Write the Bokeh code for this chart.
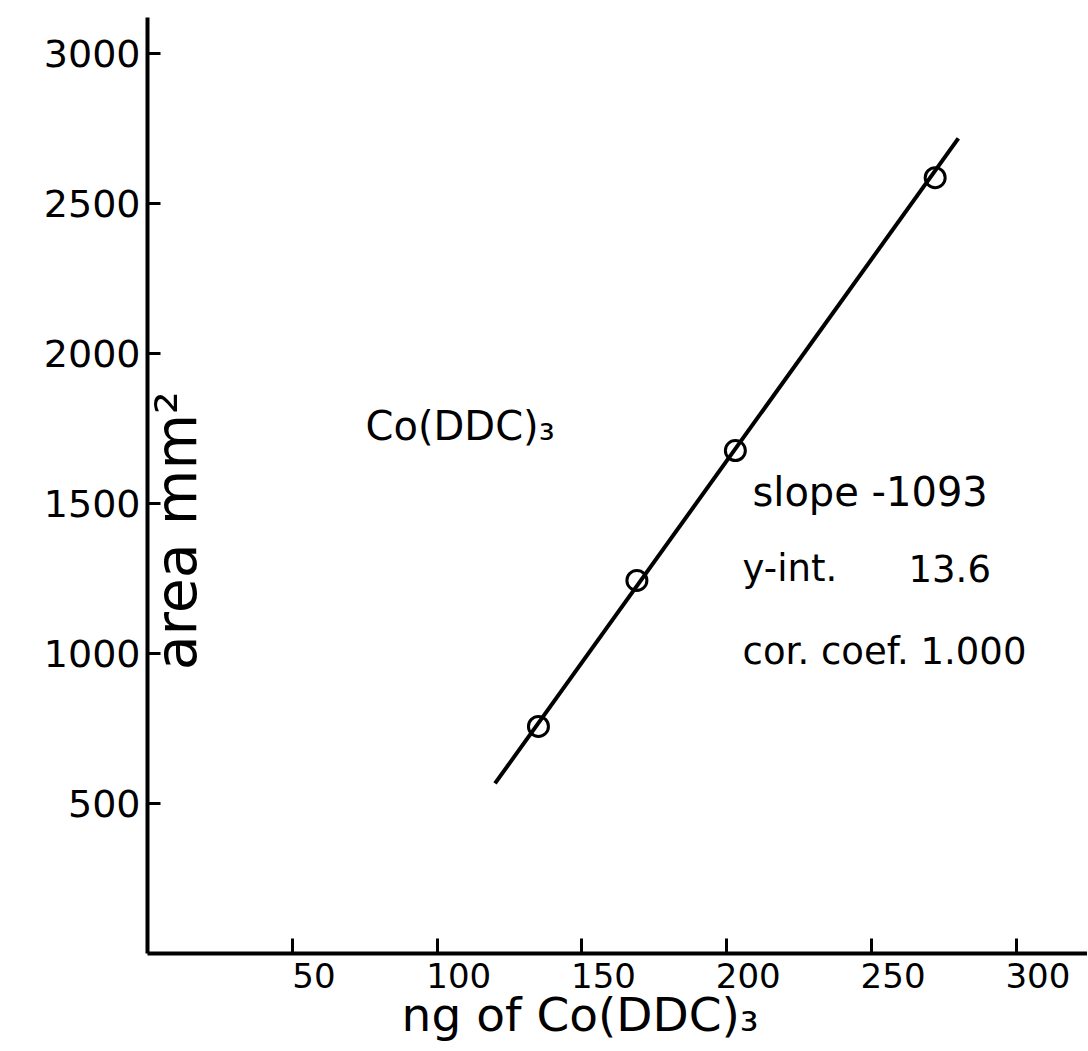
from bokeh.plotting import figure
from bokeh.models import FixedTicker, Label, Range1d
from bokeh.embed import file_html
from bokeh.resources import INLINE

# ---- data ----
ng_values = [135, 169, 203, 272]          # ng of Co(DDC)3
area_values = [757, 1244, 1677, 2587]     # area mm^2
fit_x = [120, 280]                         # drawn calibration line ends
fit_y = [567, 2718]
x_ticks = [50, 100, 150, 200, 250, 300]
y_ticks = [500, 1000, 1500, 2000, 2500, 3000]

FONT = "DejaVu Sans"
NB = "\u00a0"

p = figure(width=1087, height=1049, output_backend="svg", toolbar_location=None,
           x_range=Range1d(0, 324.6), y_range=Range1d(0, 3121),
           min_border_left=147, min_border_right=0, min_border_top=17, min_border_bottom=96)
p.outline_line_color = None
p.background_fill_color = "white"
p.border_fill_color = "white"
p.xgrid.visible = False
p.ygrid.visible = False

# axes
xa = p.xaxis[0]
xa.ticker = FixedTicker(ticks=x_ticks)
xa.major_label_overrides = {t: NB * 4 + str(t) for t in x_ticks}
xa.axis_label = "ng of Co(DDC)₃" + NB * 5
xa.axis_label_text_font = FONT
xa.axis_label_text_font_style = "normal"
xa.axis_label_text_font_size = "47px"
xa.axis_label_text_color = "black"
xa.axis_label_standoff = -12
xa.major_label_text_font = FONT
xa.major_label_text_font_size = "34px"
xa.major_label_text_color = "black"
xa.major_label_standoff = 2
xa.major_tick_in = 15
xa.major_tick_out = 0
xa.major_tick_line_width = 3
xa.major_tick_line_color = "black"
xa.minor_tick_line_color = None
xa.axis_line_width = 4
xa.axis_line_color = "black"

ya = p.yaxis[0]
ya.ticker = FixedTicker(ticks=y_ticks)
ya.axis_label = "area mm²" + NB * 5
ya.axis_label_text_font = FONT
ya.axis_label_text_font_style = "normal"
ya.axis_label_text_font_size = "57px"
ya.axis_label_text_color = "black"
ya.axis_label_standoff = -168
ya.major_label_text_font = FONT
ya.major_label_text_font_size = "38px"
ya.major_label_text_color = "black"
ya.major_label_standoff = 7
ya.major_tick_in = 13
ya.major_tick_out = 0
ya.major_tick_line_width = 3
ya.major_tick_line_color = "black"
ya.minor_tick_line_color = None
ya.axis_line_width = 4
ya.axis_line_color = "black"

# calibration line and measured points
p.line(fit_x, fit_y, line_color="black", line_width=4)
p.scatter(ng_values, area_values, marker="circle", size=20, fill_color=None,
          line_color="black", line_width=3)

# annotations
def add_label(x, y, text, size):
    p.add_layout(Label(x=x, y=y, text=text, text_font=FONT, text_font_size=size,
                       text_color="black", text_baseline="alphabetic", text_align="left"))

add_label(75.3, 1760, "Co(DDC)₃", "40px")
add_label(208.9, 1540, "slope -1093", "40px")
add_label(205.5, 1284, "y-int.", "37px")
add_label(262.8, 1284, "13.6", "37px")
add_label(205.5, 1008, "cor. coef. 1.000", "37px")

open("out.html", "w").write(file_html(p, INLINE))
